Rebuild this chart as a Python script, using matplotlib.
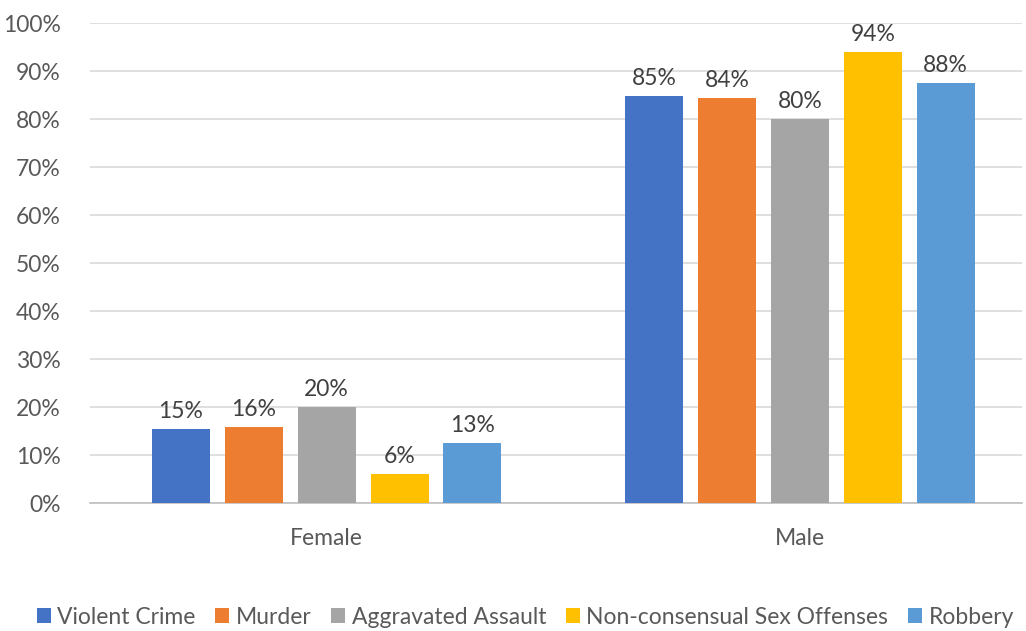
import matplotlib.pyplot as plt
import numpy as np

# data
groups = ["Female", "Male"]
series = ["Violent Crime", "Murder", "Aggravated Assault",
          "Non-consensual Sex Offenses", "Robbery"]
female = [15.35, 15.8, 20.05, 5.98, 12.5]
male = [84.7, 84.4, 79.9, 94.0, 87.5]
colors = ["#4472C4", "#ED7D31", "#A5A5A5", "#FFC000", "#5B9BD5"]

plt.rcParams['font.family'] = ['Lato', 'DejaVu Sans']
txt = "#595959"

fig = plt.figure(figsize=(10.26, 6.31), dpi=100)
ax = fig.add_axes([90 / 1026, 1 - 503 / 631, (1022 - 90) / 1026, 480 / 631])

x = np.arange(len(groups))
width = 0.1225
step = 0.154
for i, name in enumerate(series):
    vals = [female[i], male[i]]
    pos = x + (i - 2) * step
    bars = ax.bar(pos, vals, width, color=colors[i], label=name, zorder=3)
    for b, v in zip(bars, vals):
        ax.text(b.get_x() + b.get_width() / 2, v + 1.5, f"{int(v + 0.5)}%",
                ha='center', va='bottom', fontsize=16.5, color="#404040")

ax.set_ylim(0, 100)
ax.set_xlim(-0.5, 1.469)
ax.set_yticks(np.arange(0, 101, 10))
ax.set_yticklabels([f"{t}%" for t in range(0, 101, 10)], fontsize=16.5, color=txt)
ax.set_xticks(x)
ax.set_xticklabels(groups, fontsize=16.5, color=txt)
ax.tick_params(axis='both', length=0)
ax.tick_params(axis='y', pad=21)
ax.tick_params(axis='x', pad=18)
ax.grid(axis='y', color="#D9D9D9", linewidth=1.2, zorder=0)
for s in ['top', 'right', 'left']:
    ax.spines[s].set_visible(False)
ax.spines['bottom'].set_color("#BFBFBF")
ax.spines['bottom'].set_linewidth(1.2)

leg = fig.legend(loc='center', bbox_to_anchor=(0.512, 1 - 617 / 631), ncol=5,
                 frameon=False, fontsize=16.5, handlelength=0.6, handleheight=0.6,
                 handletextpad=0.3, columnspacing=0.85)
for t in leg.get_texts():
    t.set_color(txt)

fig.savefig("out.png", dpi=100)
